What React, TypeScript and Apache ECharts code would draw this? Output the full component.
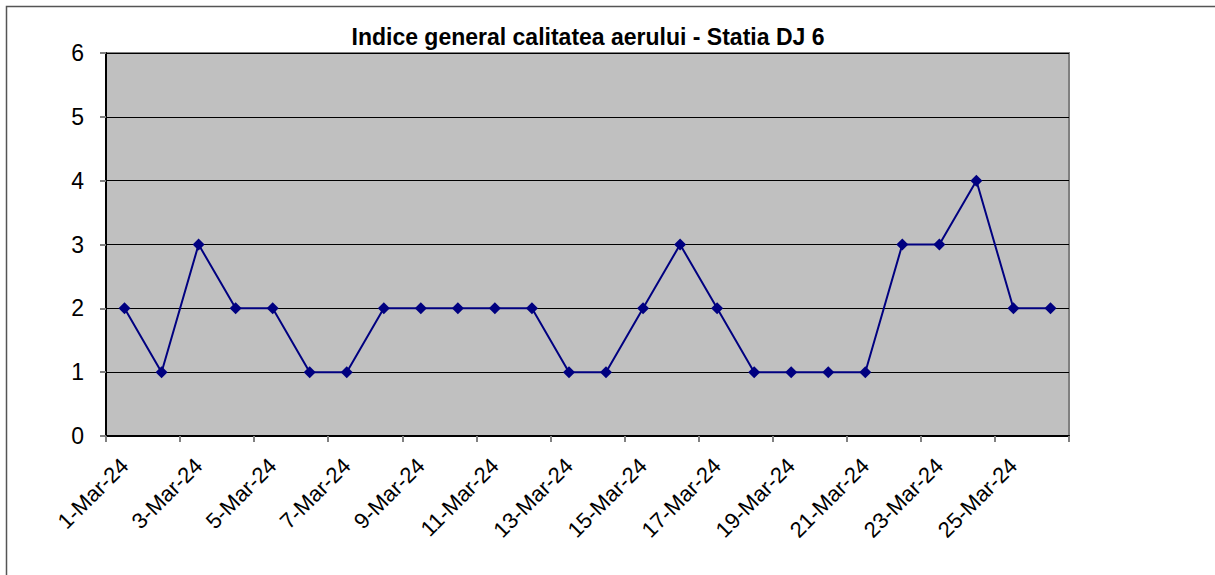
import React, { useEffect, useRef } from "react";
import * as echarts from "echarts";

const categories = [
  "1-Mar-24", "2-Mar-24", "3-Mar-24", "4-Mar-24", "5-Mar-24", "6-Mar-24", "7-Mar-24",
  "8-Mar-24", "9-Mar-24", "10-Mar-24", "11-Mar-24", "12-Mar-24", "13-Mar-24", "14-Mar-24",
  "15-Mar-24", "16-Mar-24", "17-Mar-24", "18-Mar-24", "19-Mar-24", "20-Mar-24", "21-Mar-24",
  "22-Mar-24", "23-Mar-24", "24-Mar-24", "25-Mar-24", "26-Mar-24",
];
const indexValues = [2, 1, 3, 2, 2, 1, 1, 2, 2, 2, 2, 2, 1, 1, 2, 3, 2, 1, 1, 1, 1, 3, 3, 4, 2, 2];
const titleText = "Indice general calitatea aerului - Statia DJ 6";

export default function App() {
  const ref = useRef<HTMLDivElement>(null);
  useEffect(() => {
    if (!ref.current) return;
    const chart = echarts.init(ref.current, null, { renderer: "svg" });
    chart.setOption({
      animation: false,
      backgroundColor: "#ffffff",
      title: {
        text: titleText,
        left: 583,
        top: 20,
        textAlign: "center",
        textStyle: { fontFamily: "Arial, Liberation Sans", fontSize: 23, fontWeight: "bold", color: "#000" },
      },
      graphic: [
        {
          type: "rect",
          shape: { x: 6.5, y: 6.5, width: 1220, height: 580 },
          style: { fill: "none", stroke: "#555", lineWidth: 1.5 },
          silent: true,
          z: -10,
        },
      ],
      grid: {
        left: 106,
        top: 53,
        right: 146,
        bottom: 139,
        show: true,
        backgroundColor: "#C0C0C0",
        borderColor: "#808080",
        borderWidth: 2,
      },
      xAxis: {
        type: "category",
        data: categories,
        boundaryGap: true,
        axisLine: { show: true, lineStyle: { color: "#000", width: 2 } },
        axisTick: { show: true, interval: 1, length: 6, lineStyle: { color: "#808080", width: 2 } },
        axisLabel: {
          interval: 1,
          rotate: 45,
          margin: 26,
          fontFamily: "Arial, Liberation Sans",
          fontSize: 22,
          color: "#000",
        },
        splitLine: { show: false },
      },
      yAxis: {
        type: "value",
        min: 0,
        max: 6,
        interval: 1,
        axisLine: { show: true, lineStyle: { color: "#000", width: 2 } },
        axisTick: { show: true, length: 6, lineStyle: { color: "#808080", width: 2 } },
        axisLabel: {
          margin: 22,
          fontFamily: "Arial, Liberation Sans",
          fontSize: 23,
          color: "#000",
        },
        splitLine: { show: true, lineStyle: { color: "#000", width: 1 } },
      },
      series: [
        {
          type: "line",
          data: indexValues,
          symbol: "diamond",
          symbolSize: 12,
          lineStyle: { color: "#000080", width: 2 },
          itemStyle: { color: "#000080" },
        },
      ],
    });
    return () => chart.dispose();
  }, []);
  return (
    <div
      ref={ref}
      style={{ position: "absolute", left: 0, top: 0, width: 1215, height: 575 }}
    />
  );
}
